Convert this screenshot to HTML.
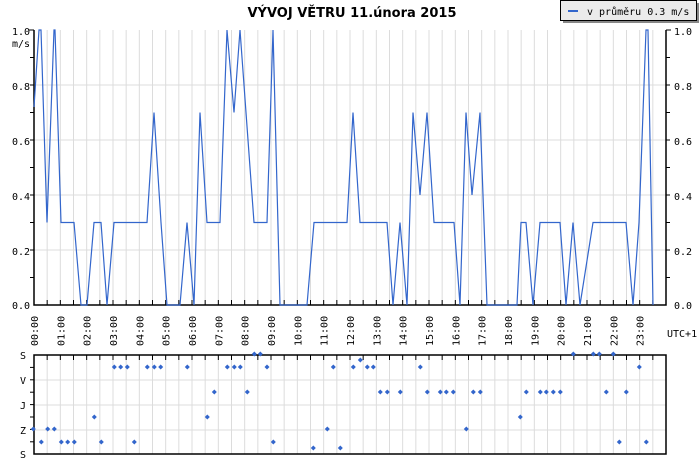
<!DOCTYPE html>
<html><head><meta charset="utf-8"><style>
html,body{margin:0;padding:0;background:#fff;width:700px;height:460px;overflow:hidden}
svg{display:block}
text{font-family:"DejaVu Sans Mono","Liberation Mono",monospace;font-size:10px;fill:#000}
</style></head><body>
<svg id="s" width="700" height="460" xmlns="http://www.w3.org/2000/svg">
<rect width="700" height="460" fill="#fff"/>
<g id="grid"></g>
<text x="352" y="17" text-anchor="middle" style="font-family:'DejaVu Sans','Liberation Sans',sans-serif;font-weight:bold;font-size:13px">VÝVOJ VĚTRU  11.února 2015</text>
<rect x="563" y="3" width="136" height="20" fill="#888"/>
<rect x="560.5" y="0.5" width="136" height="20" fill="#ebebeb" stroke="#000"/>
<line x1="568" y1="11" x2="578" y2="11" stroke="#3366cc" stroke-width="2"/>
<text x="587" y="15">v průměru 0.3 m/s</text>
<text x="12" y="35">1.0</text>
<text x="12" y="47">m/s</text>
<text x="12" y="90">0.8</text>
<text x="12" y="145">0.6</text>
<text x="12" y="200">0.4</text>
<text x="12" y="255">0.2</text>
<text x="12" y="309">0.0</text>
<text x="674" y="35">1.0</text>
<text x="674" y="90">0.8</text>
<text x="674" y="145">0.6</text>
<text x="674" y="200">0.4</text>
<text x="674" y="255">0.2</text>
<text x="674" y="309">0.0</text>
<text x="667" y="337">UTC+1</text>
<text x="20" y="359">S</text>
<text x="20" y="384">V</text>
<text x="20" y="409">J</text>
<text x="20" y="434">Z</text>
<text x="20" y="458">S</text>
<g id="lbl"></g>
<polyline id="ln" fill="none" stroke="#3366cc" stroke-width="1.2"/>
<g id="pts" fill="#3366cc"></g>
</svg>
<script>
var ns="http://www.w3.org/2000/svg";
function el(t,a,p){var e=document.createElementNS(ns,t);for(var k in a)e.setAttribute(k,a[k]);(p||document.getElementById('grid')).appendChild(e);return e;}
var X0=34,X1=666,Y0=30,Y1=305,B0=355,B1=454,H=(X1-X0)/24;
for(var i=1;i<48;i++){var x=X0+i*H/2;el('line',{x1:x,y1:Y0,x2:x,y2:Y1,stroke:'#dcdcdc'});el('line',{x1:x,y1:B0,x2:x,y2:B1,stroke:'#dcdcdc'});
el('line',{x1:x,y1:Y1,x2:x,y2:Y1-5,stroke:'#000'});el('line',{x1:x,y1:B0,x2:x,y2:B0+5,stroke:'#000'});}
for(var v=0.2;v<1;v+=0.2){var y=Y1-v*275;el('line',{x1:X0,y1:y,x2:X1,y2:y,stroke:'#dcdcdc'});}
for(var v=0.1;v<1;v+=0.1){var y=Y1-v*275;el('line',{x1:X0,y1:y,x2:X0-4,y2:y,stroke:'#000'});el('line',{x1:X1,y1:y,x2:X1+4,y2:y,stroke:'#000'});}
[380,405,430].forEach(function(y){el('line',{x1:X0,y1:y,x2:X1,y2:y,stroke:'#dcdcdc'});});
for(var k=1;k<8;k++){var y=B0+k*12.4;el('line',{x1:X0,y1:y,x2:X0-4,y2:y,stroke:'#000'});}
el('line',{x1:X0,y1:Y0,x2:X0-5,y2:Y0,stroke:'#000'});el('line',{x1:X1,y1:Y0,x2:X1+5,y2:Y0,stroke:'#000'});
el('polyline',{points:X0+','+Y0+' '+X0+','+Y1+' '+X1+','+Y1+' '+X1+','+Y0,fill:'none',stroke:'#000','stroke-width':1.5});
el('rect',{x:X0,y:B0,width:X1-X0,height:B1-B0,fill:'none',stroke:'#000','stroke-width':1.5});
var lg=document.getElementById('lbl');
for(var h=0;h<24;h++){var x=X0+h*H+4;var t=el('text',{x:0,y:0,transform:'translate('+x+',346) rotate(-90)'},lg);t.textContent=(h<10?'0':'')+h+':00';}
var d=[[34,.72],[39,1],[41,1],[47,.3],[54,1],[55,1],[61,.3],[74,.3],[81,0],[87,0],[94,.3],[101,.3],[107,0],[114,.3],[147,.3],[154,.7],[161,.3],[167,0],[180,0],[187,.3],[194,0],[200,.7],[207,.3],[220,.3],[227,1],[234,.7],[240,1],[254,.3],[267,.3],[273,1],[280,0],[307,0],[314,.3],[347,.3],[353,.7],[360,.3],[387,.3],[393,0],[400,.3],[407,0],[413,.7],[420,.4],[427,.7],[434,.3],[454,.3],[460,0],[466,.7],[472,.4],[480,.7],[487,0],[517,0],[521,.3],[526,.3],[533,0],[540,.3],[560,.3],[566,0],[573,.3],[580,0],[593,.3],[626,.3],[633,0],[639,.3],[646,1],[648,1],[653,0]];
document.getElementById('ln').setAttribute('points',d.map(function(p){return p[0]+','+(Y1-p[1]*275).toFixed(1);}).join(' '));
var P=[[33.3,429],[41.3,442],[47.7,429],[54.3,429],[61.3,442],[67.7,442],[74.3,442],[94.3,417],[101.3,442],[114.3,367],[120.7,367],[127.3,367],[134.3,442],[147.3,367],[154.3,367],[160.7,367],[187.3,367],[207.3,417],[214.3,392],[227.3,367],[234.3,367],[240.3,367],[247.3,392],[254.3,354],[260.3,354],[267,367],[273.3,442],[313.3,448],[327.3,429],[333.3,367],[340.3,448],[353.3,367],[360.3,360],[367.3,367],[373.3,367],[380.3,392],[387.3,392],[400.3,392],[420.3,367],[427.3,392],[440.3,392],[446.3,392],[453.3,392],[466.3,429],[473.3,392],[480.3,392],[520.3,417],[526.3,392],[540.3,392],[546.3,392],[553.3,392],[560.3,392],[573.3,354],[593.3,354],[599.3,354],[606.3,392],[613.3,354],[619.3,442],[626.3,392],[639.3,367],[646.3,442]];
var pg=document.getElementById('pts');
P.forEach(function(p){el('polygon',{points:(p[0]-2.5)+','+p[1]+' '+p[0]+','+(p[1]-2.5)+' '+(p[0]+2.5)+','+p[1]+' '+p[0]+','+(p[1]+2.5)},pg);});
</script>
</body></html>
